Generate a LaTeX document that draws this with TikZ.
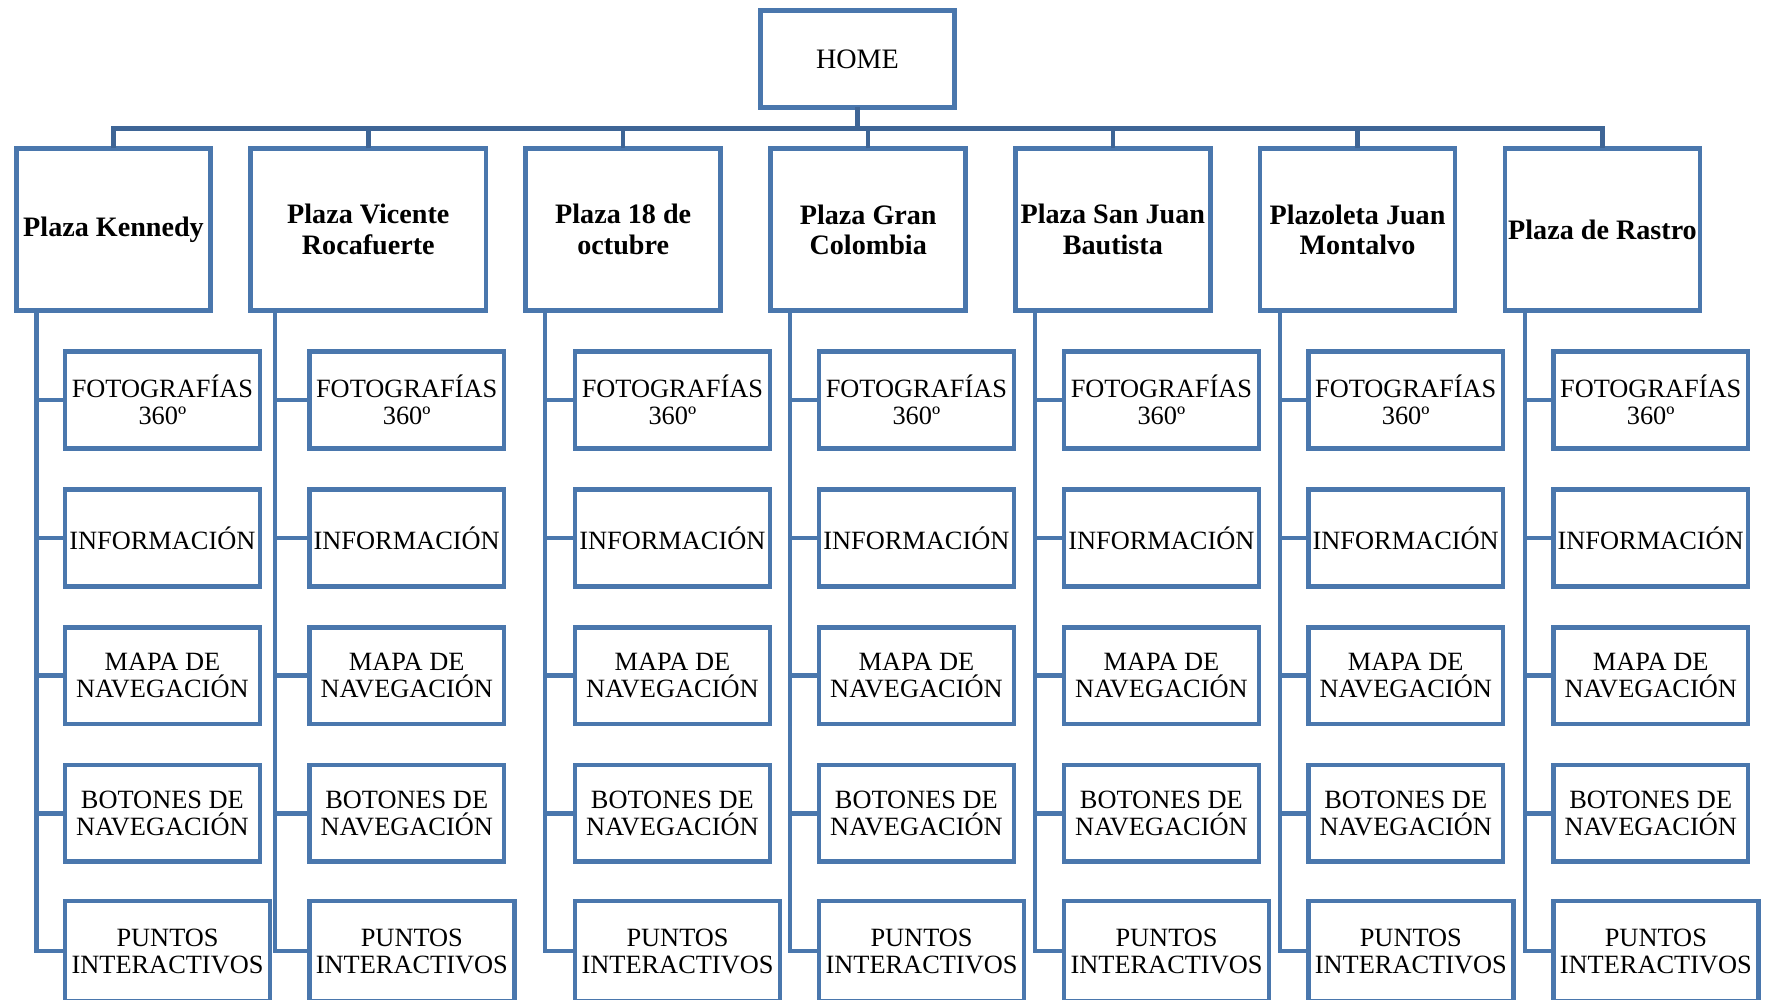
\documentclass[tikz,border=0pt]{standalone}
\usepackage{fontspec}
\setmainfont{Liberation Serif}

\definecolor{boxblue}{RGB}{74,119,173}
\definecolor{busblue}{RGB}{62,101,150}

\tikzset{
  home/.style={draw=boxblue, line width=1.3pt, minimum width=1.94cm, minimum height=0.966cm,
    inner sep=0pt, outer sep=0pt, font=\fontsize{8}{8.6}\selectfont},
  plaza/.style={draw=boxblue, line width=1.3pt, minimum height=1.624cm, inner sep=0pt,
    outer sep=0pt, align=center, font=\bfseries\fontsize{8}{8.6}\selectfont},
  item/.style={draw=boxblue, line width=1.3pt, minimum width=1.947cm, minimum height=0.966cm,
    inner sep=0pt, outer sep=0pt, align=center, anchor=west, font=\fontsize{7.5}{7.7}\selectfont},
  puntos/.style={item, minimum width=2.05cm, minimum height=1cm},
  link/.style={boxblue, line width=1.3pt},
  bus/.style={busblue, line width=1.3pt},
}

\begin{document}
\begin{tikzpicture}[x=0.01cm, y=-0.01cm]
  \useasboundingbox (0,0) rectangle (1766,999);

  \node[home] (home) at (857.5,59) {HOME};

  % one column per plaza, with its five pages
  \foreach \i/\px/\pw/\vx/\cx/\lbl in {
      1/113.5/1.94/36.4/65/{Plaza Kennedy},
      2/368.3/2.35/275/309.3/{Plaza Vicente\\Rocafuerte},
      3/623.2/1.95/545/575/{Plaza 18 de\\octubre},
      4/868.2/1.95/790/819/{Plaza Gran\\Colombia},
      5/1112.8/1.95/1035/1064/{Plaza San Juan\\Bautista},
      6/1357.5/1.95/1280/1308.3/{Plazoleta Juan\\Montalvo},
      7/1602.5/1.95/1525/1553.3/{Plaza de Rastro}}
  {
    \node[plaza, minimum width=\pw cm] (p\i) at (\px,229.5) {\lbl};
    \coordinate (v\i) at (\vx,0);

    \node[item] (c\i-1) at (\cx,400) {FOTOGRAFÍAS\\360º};
    \node[item] (c\i-2) at (\cx,538) {INFORMACIÓN};
    \node[item] (c\i-3) at (\cx,675.7) {MAPA DE\\NAVEGACIÓN};
    \node[item] (c\i-4) at (\cx,813.3) {BOTONES DE\\NAVEGACIÓN};
    \node[puntos] (c\i-5) at (\cx,951) {PUNTOS\\INTERACTIVOS};

    \draw[link] (p\i.south -| v\i) |- (c\i-5.west);
    \foreach \r in {1,...,4}
      \draw[link] (c\i-\r.west) -- (c\i-\r.west -| v\i);
  }

  % bus from HOME to the plazas
  \draw[bus] (home.south) -- ++(0,21);
  \draw[bus] (p1.north) -- ++(0,-20) -| (p7.north);
  \foreach \i in {2,...,6}
    \draw[bus] (p\i.north) -- ++(0,-20);
\end{tikzpicture}
\end{document}
